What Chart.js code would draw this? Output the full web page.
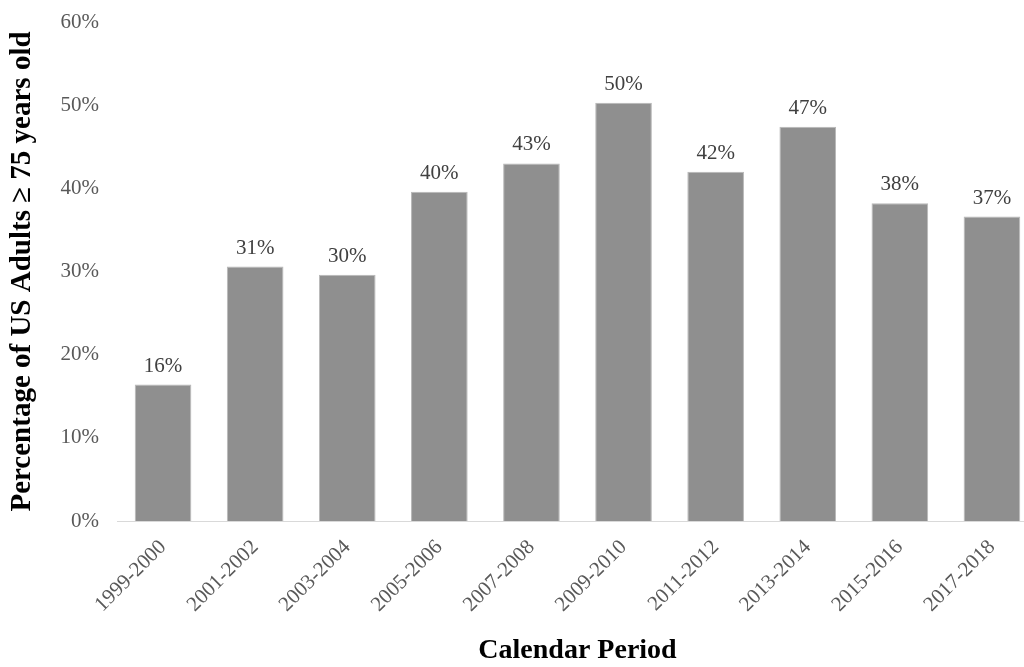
<!DOCTYPE html>
<html>
<head>
<meta charset="utf-8">
<script src="https://cdn.jsdelivr.net/npm/chart.js@4/dist/chart.umd.min.js"></script>
<style>
  html, body { margin: 0; padding: 0; background: #fff; overflow: hidden; }
  #wrap { position: relative; width: 1040px; height: 667px; }
</style>
</head>
<body>
<div id="wrap"><canvas id="chart"></canvas></div>
<script>
// Calendar periods (NHANES cycles)
const periods = ['1999-2000', '2001-2002', '2003-2004', '2005-2006', '2007-2008',
                 '2009-2010', '2011-2012', '2013-2014', '2015-2016', '2017-2018'];
// Share of US adults aged 75+ (percent)
const shares = [16.4, 30.6, 29.6, 39.6, 43.0, 50.3, 42.0, 47.4, 38.2, 36.6];
// Y axis range and step (percent)
const yMin = 0, yMax = 60, yStep = 10;

const serif = "'Liberation Serif', 'Times New Roman', serif";

// Writes each bar's rounded value just above it
const valueLabels = {
  id: 'valueLabels',
  afterDatasetsDraw(chart) {
    const ctx = chart.ctx;
    const meta = chart.getDatasetMeta(0);
    ctx.save();
    ctx.font = `21px ${serif}`;
    ctx.fillStyle = '#404040';
    ctx.textAlign = 'center';
    ctx.textBaseline = 'alphabetic';
    meta.data.forEach((bar, i) => {
      ctx.fillText(Math.round(shares[i]) + '%', bar.x, bar.y - 13);
    });
    ctx.restore();
  }
};

new Chart(document.getElementById('chart'), {
  type: 'bar',
  data: {
    labels: periods,
    datasets: [{
      data: shares,
      backgroundColor: '#8f8f8f',
      borderColor: '#b8b8b8',
      borderWidth: 1,
      barPercentage: 0.615,
      categoryPercentage: 1
    }]
  },
  options: {
    responsive: true,
    maintainAspectRatio: false,
    animation: false,
    layout: { padding: { top: 22, right: 2, left: 0, bottom: 0 } },
    plugins: { legend: { display: false }, tooltip: { enabled: false } },
    scales: {
      x: {
        grid: { display: false, drawTicks: false },
        border: { display: true, color: '#d9d9d9', width: 1 },
        ticks: {
          color: '#595959',
          font: { family: serif, size: 21 },
          minRotation: 45,
          maxRotation: 45,
          padding: 14,
          autoSkip: false
        },
        title: {
          display: true,
          text: 'Calendar Period',
          color: '#000',
          font: { family: serif, size: 28, weight: 'bold', lineHeight: 1 },
          padding: { top: 0, bottom: 2 }
        },
        afterFit(scale) { scale.height = 146; }
      },
      y: {
        min: yMin,
        max: yMax,
        grid: { display: false, drawTicks: false },
        border: { display: false },
        ticks: {
          stepSize: yStep,
          color: '#595959',
          font: { family: serif, size: 21 },
          padding: 18,
          callback: v => v + '%'
        },
        title: {
          display: true,
          text: 'Percentage of US Adults \u2265 75 years old',
          color: '#000',
          font: { family: serif, size: 29, weight: 'bold', lineHeight: 1 },
          padding: { top: 8, bottom: 0 }
        },
        afterFit(scale) {
          scale.width = 117;
          // the plot top is set by layout padding alone
          scale.paddingTop = 0;
          scale.paddingBottom = 0;
        }
      }
    }
  },
  plugins: [valueLabels]
});
</script>
</body>
</html>
